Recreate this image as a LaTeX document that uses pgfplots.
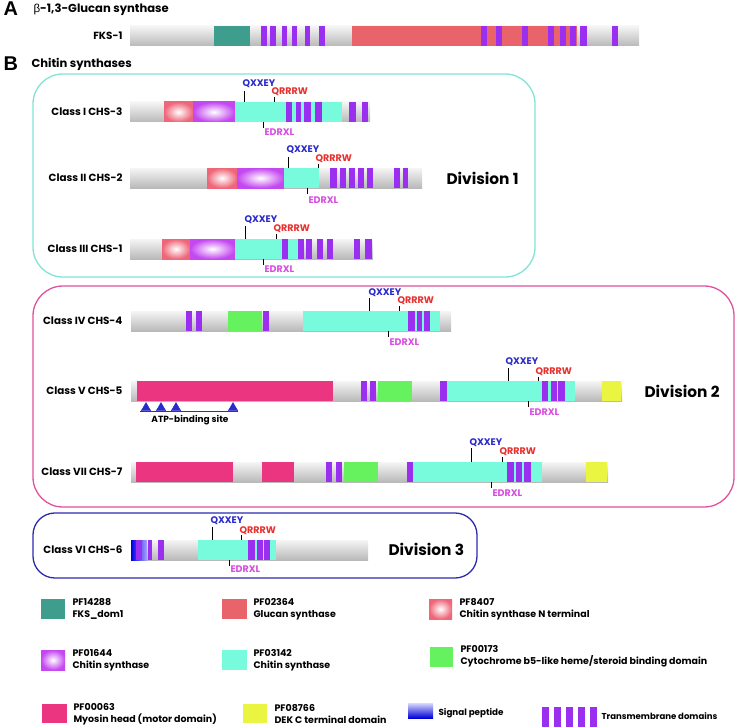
\documentclass[border=0pt]{standalone}
\usepackage{pgfplots}
\pgfplotsset{compat=1.18}
\usepackage{fontspec}
\setmainfont{Poppins}[UprightFont={* Medium},BoldFont={* Bold}]
\newfontfamily\arialfont{Liberation Sans}
\definecolor{tealc}{HTML}{3F9D8E}
\definecolor{redc}{HTML}{E9636A}
\definecolor{pinkc}{HTML}{EE6678}
\definecolor{violc}{HTML}{C448F0}
\definecolor{cyanc}{HTML}{78FADC}
\definecolor{greenc}{HTML}{66F25E}
\definecolor{myoc}{HTML}{EC3580}
\definecolor{yelc}{HTML}{EAF542}
\definecolor{tmc}{HTML}{9B2FEF}
\definecolor{mblue}{HTML}{2B2BCC}
\definecolor{mred}{HTML}{E8312E}
\definecolor{mmag}{HTML}{D64FE0}
\definecolor{divA}{HTML}{7FE3D8}
\definecolor{divB}{HTML}{E2509C}
\definecolor{divC}{HTML}{2B2BB0}
\pgfplotsset{
  gr/.style={top color=gray!8, bottom color=gray!55},
  te/.style={fill=tealc},
  rd/.style={fill=redc},
  pk/.style={inner color=white, outer color=pinkc},
  vi/.style={inner color=white, outer color=violc},
  cy/.style={fill=cyanc},
  gn/.style={fill=greenc},
  my/.style={fill=myoc},
  ye/.style={fill=yelc},
  tm/.style={fill=tmc},
  sp/.style={left color=blue!90!black, right color=blue!35},
}
\newcommand\seg[3]{\addplot[#3,draw=none,forget plot] coordinates {(#1,\ya) (#2,\ya) (#2,\yb) (#1,\yb)};}
\newcommand\tm[2]{\seg{#1}{#2}{tm}}
\newcommand\tick[3]{\addplot[black,line width=0.8pt,forget plot] coordinates {(#1,#2) (#1,#3)};}
\newcommand\lab[3]{\node[anchor=east,font=\fontsize{10.4}{12}\bfseries] at (#1,#2) {#3};}
\newcommand\mq[2]{\node[anchor=west,text=mblue,font=\fontsize{9.6}{11}\bfseries] at (#1,#2) {QXXEY};}
\newcommand\mr[2]{\node[anchor=west,text=mred,font=\fontsize{9.6}{11}\bfseries] at (#1,#2) {QRRRW};}
\newcommand\me[2]{\node[anchor=west,text=mmag,font=\fontsize{9.6}{11}\bfseries] at (#1,#2) {EDRXL};}
\newcommand\leg[3]{\node[anchor=west,align=left,font=\fontsize{9.5}{12}\bfseries] at (#1,#2) {#3};}
\begin{document}
\begin{tikzpicture}
\begin{axis}[x=1bp,y=1bp,xmin=0,xmax=738,ymin=0,ymax=727,y dir=reverse,hide axis,clip=false]
% ---------- Panel A
\node[anchor=west,font=\arialfont\fontsize{20}{22}\bfseries] at (0,9) {A};
\node[anchor=west,font=\fontsize{11.6}{14}\bfseries] at (30,10) {{\arialfont\mdseries β}-1,3-Glucan synthase};
\lab{126}{36}{FKS-1}
\def\ya{26}\def\yb{46}
\seg{130}{639}{gr}
\seg{214}{250}{te}
\tm{261}{267}\tm{270}{276}\tm{282}{287}\tm{292}{297}\tm{305}{310}\tm{319}{325}
\seg{352}{577}{rd}
\tm{481}{487}\tm{496}{502}\tm{522}{528}\tm{548}{554}\tm{560}{566}\tm{570}{576}\tm{580}{587}\tm{612}{618}
% ---------- Panel B
\node[anchor=west,font=\arialfont\fontsize{20}{22}\bfseries] at (0,64) {B};
\node[anchor=west,font=\fontsize{11.6}{14}\bfseries] at (28,64) {Chitin synthases};
% boxes
\addplot[draw=divA,line width=1.3pt,rounded corners=30pt,forget plot] coordinates {(280,74) (535,74) (535,277) (33,277) (33,74) (280,74)};
\addplot[draw=divB,line width=1.3pt,rounded corners=30pt,forget plot] coordinates {(380,286) (734,286) (734,507) (33,507) (33,286) (380,286)};
\addplot[draw=divC,line width=1.3pt,rounded corners=22pt,forget plot] coordinates {(250,513) (477,513) (477,578) (33,578) (33,513) (250,513)};
\node[anchor=west,font=\fontsize{15.4}{20}\bfseries] at (443,178) {Division 1};
\node[anchor=west,font=\fontsize{15.4}{20}\bfseries] at (641,391) {Division 2};
\node[anchor=west,font=\fontsize{15.4}{20}\bfseries] at (385,549) {Division 3};
% CHS-3
\lab{126}{112}{Class I CHS-3}
\def\ya{102}\def\yb{122}
\seg{130}{370}{gr}
\seg{164}{193}{pk}\seg{193}{235}{vi}\seg{235}{342}{cy}
\tm{286}{292}\tm{296}{301}\tm{304}{311}\tm{315}{322}\tm{349}{356}\tm{362}{368}
\tick{244}{91}{102}\tick{274}{97}{102}\tick{263}{122}{128}
\mq{239}{84}\mr{268}{92}\me{261}{132}
% CHS-2
\lab{126}{178}{Class II CHS-2}
\def\ya{168}\def\yb{188}
\seg{130}{422}{gr}
\seg{207}{237}{pk}\seg{237}{284}{vi}\seg{284}{319}{cy}
\tm{330}{337}\tm{340}{346}\tm{349}{355}\tm{358}{364}\tm{367}{373}\tm{394}{400}\tm{403}{408}
\tick{288}{157}{168}\tick{318}{164}{168}\tick{307}{188}{194}
\mq{283}{150}\mr{312}{159}\me{305}{200}
% CHS-1
\lab{126}{249}{Class III CHS-1}
\def\ya{239}\def\yb{259}
\seg{130}{373}{gr}
\seg{162}{190}{pk}\seg{190}{235}{vi}\seg{235}{298}{cy}
\tm{282}{288}\tm{298}{304}\tm{306}{312}\tm{317}{323}\tm{327}{333}\tm{354}{360}\tm{365}{372}
\tick{245}{226}{239}\tick{276}{234}{239}\tick{263}{259}{265}
\mq{241}{220}\mr{270}{229}\me{261}{269}
% CHS-4
\lab{126}{321}{Class IV CHS-4}
\def\ya{311}\def\yb{331}
\seg{131}{451}{gr}
\tm{186}{192}\tm{196}{202}
\seg{228}{262}{gn}
\tm{263}{269}
\seg{303}{440}{cy}
\tm{408}{415}\tm{417}{422}\tm{424}{430}
\tick{369}{298}{311}\tick{399}{306}{311}\tick{388}{331}{337}
\mq{365}{293}\mr{394}{301}\me{386}{342}
% CHS-5
\lab{126}{391}{Class V CHS-5}
\def\ya{381}\def\yb{401}
\seg{131}{622}{gr}
\seg{137}{333}{my}
\tm{361}{367}\tm{370}{376}
\seg{378}{412}{gn}
\tm{440}{447}
\seg{447}{575}{cy}
\tm{542}{548}\tm{551}{557}\tm{558}{565}
\seg{602}{621}{ye}
\tick{508}{368}{381}\tick{538}{377}{381}\tick{528}{401}{407}
\mq{502}{362}\mr{532}{372}\me{526}{412}
\addplot[mblue,line width=0.9pt,forget plot] coordinates {(140,411) (238,411)};
\addplot[only marks,mark=triangle*,mark size=5.5pt,mark options={fill=mblue,draw=mblue},forget plot] coordinates {(146,408) (161,408) (176,408) (233,408)};
\node[font=\fontsize{9}{11}\bfseries] at (190,420) {ATP-binding site};
% CHS-7
\lab{126}{472}{Class VII CHS-7}
\def\ya{462}\def\yb{482}
\seg{131}{608}{gr}
\seg{136}{233}{my}\seg{262}{294}{my}
\tm{326}{332}\tm{336}{342}
\seg{344}{378}{gn}
\tm{407}{413}
\seg{413}{542}{cy}
\tm{507}{514}\tm{516}{522}\tm{524}{531}
\seg{586}{607}{ye}
\tick{471}{448}{462}\tick{502}{457}{462}\tick{491}{482}{488}
\mq{466}{443}\mr{496}{452}\me{489}{493}
% CHS-6
\lab{126}{550}{Class VI CHS-6}
\def\ya{540}\def\yb{560}
\seg{131}{368}{gr}
\seg{131}{147}{sp}
\tm{136}{142}\tm{148}{152}\tm{158}{164}
\seg{198}{276}{cy}
\tm{248}{255}\tm{257}{263}\tm{264}{270}
\tick{212}{527}{540}\tick{241}{535}{540}\tick{229}{560}{566}
\mq{207}{521}\mr{236}{531}\me{227}{569}
% ---------- Legend
\def\ya{599}\def\yb{619}
\seg{41}{65}{te}\seg{222}{247}{rd}\seg{429}{452}{pk}
\leg{69}{609}{PF14288\\FKS\_dom1}
\leg{250}{609}{PF02364\\Glucan synthase}
\leg{456}{609}{PF8407\\Chitin synthase N terminal}
\def\ya{650}\def\yb{670}
\seg{41}{65}{vi}\seg{222}{247}{cy}
\def\ya{647}\def\yb{667}
\seg{430}{453}{gn}
\leg{69}{660}{PF01644\\Chitin synthase}
\leg{250}{660}{PF03142\\Chitin synthase}
\leg{457}{656}{PF00173\\Cytochrome b5-like heme/steroid binding domain}
\def\ya{704}\def\yb{723}
\seg{42}{67}{my}\seg{243}{267}{ye}
\leg{70}{714}{PF00063\\Myosin head (motor domain)}
\leg{271}{714}{PF08766\\DEK C terminal domain}
\def\ya{703}\def\yb{718}
\seg{408}{433}{top color=blue!15,bottom color=blue!85!black}
\node[anchor=west,font=\fontsize{8.8}{11}\bfseries] at (435,713) {Signal peptide};
\def\ya{707}\def\yb{727}
\tm{542}{549}\tm{554}{561}\tm{566}{573}\tm{578}{585}\tm{590}{597}
\node[anchor=west,font=\fontsize{8.6}{11}\bfseries] at (598,716) {Transmembrane domains};
\end{axis}
\pgfresetboundingbox
\useasboundingbox (current axis.south west) rectangle (current axis.north east);
\end{tikzpicture}
\end{document}
